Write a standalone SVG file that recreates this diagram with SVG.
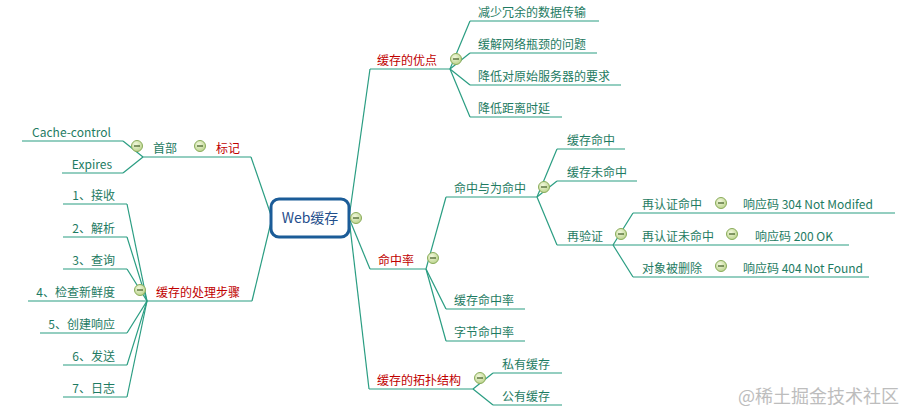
<svg xmlns="http://www.w3.org/2000/svg" xmlns:xlink="http://www.w3.org/1999/xlink" width="913" height="420" viewBox="0 0 913 420">
<style>
text{font-family:"Noto Sans CJK SC","Microsoft YaHei",sans-serif;font-size:12px;fill:#1e7b62}
.r{fill:#c00000}
.e{text-anchor:end}
.ul,.c{stroke:#2a9d82;stroke-width:1.2;fill:none}
.wm{fill:#bdbdbd;font-size:18px}
</style>
<defs>
<radialGradient id="tg" cx="0.4" cy="0.35" r="0.7">
<stop offset="0" stop-color="#f2f8dc"/>
<stop offset="1" stop-color="#b9d28a"/>
</radialGradient>
<g id="tog">
<circle r="5.5" fill="url(#tg)" stroke="#8aac5a" stroke-width="1"/>
<line x1="-3" y1="0" x2="3" y2="0" stroke="#3f5a22" stroke-width="1.2"/>
</g>
</defs>
<rect width="913" height="420" fill="#ffffff"/>

<g id="connectors" class="c">
<path d="M349 218 L370 69"/>
<path d="M349 218 L370 269"/>
<path d="M349 218 L369 389"/>
<path d="M272 218 L251 157"/>
<path d="M272 218 L252 301"/>
<path d="M450 69 L470 21"/>
<path d="M450 69 L470 53"/>
<path d="M450 69 L470 85"/>
<path d="M450 69 L470 117"/>
<path d="M426 269 L446 197"/>
<path d="M426 269 L446 309"/>
<path d="M426 269 L446 341"/>
<path d="M537 197 L557 149"/>
<path d="M537 197 L557 181"/>
<path d="M537 197 L557 245"/>
<path d="M613 245 L633 213"/>
<path d="M613 245 L633 277"/>
<path d="M473 389 L493 373"/>
<path d="M473 389 L493 405"/>
<path d="M143 157 L123 141"/>
<path d="M143 157 L123 173"/>
<path d="M147 301 L127 204"/>
<path d="M147 301 L127 237"/>
<path d="M147 301 L127 269"/>
<path d="M147 301 L127 333"/>
<path d="M147 301 L127 365"/>
<path d="M147 301 L127 397"/>
</g>

<g id="root">
<rect x="271" y="199" width="78" height="38" rx="8" fill="#ffffff" stroke="#1b5c98" stroke-width="3"/>
<text x="310" y="223" text-anchor="middle" style="fill:#1f4e8c;font-size:14px">Web缓存</text>
<use xlink:href="#tog" x="356" y="218"/>
</g>

<g id="n-youdian">
<path class="ul" d="M370 69 H450"/>
<text class="r" x="377" y="65">缓存的优点</text>
<use xlink:href="#tog" x="456" y="59"/>
</g>
<g id="n-yd1"><path class="ul" d="M470 21 H599"/><text x="478" y="17">减少冗余的数据传输</text></g>
<g id="n-yd2"><path class="ul" d="M470 53 H597"/><text x="478" y="49">缓解网络瓶颈的问题</text></g>
<g id="n-yd3"><path class="ul" d="M470 85 H621"/><text x="478" y="81">降低对原始服务器的要求</text></g>
<g id="n-yd4"><path class="ul" d="M470 117 H562"/><text x="478" y="113">降低距离时延</text></g>

<g id="n-mzl">
<path class="ul" d="M370 269 H426"/>
<text class="r" x="378" y="265">命中率</text>
<use xlink:href="#tog" x="433" y="258"/>
</g>
<g id="n-mzywmz">
<path class="ul" d="M446 197 H537"/>
<text x="454" y="193">命中与为命中</text>
<use xlink:href="#tog" x="544" y="187"/>
</g>
<g id="n-hcmz"><path class="ul" d="M557 149 H625"/><text x="567" y="145">缓存命中</text></g>
<g id="n-hcwmz"><path class="ul" d="M557 181 H637"/><text x="567" y="177">缓存未命中</text></g>
<g id="n-zyz">
<path class="ul" d="M557 245 H613"/>
<text x="567" y="241">再验证</text>
<use xlink:href="#tog" x="621" y="234"/>
</g>
<g id="n-rzmz">
<path class="ul" d="M633 213 H720"/>
<text x="642" y="209">再认证命中</text>
<use xlink:href="#tog" x="721" y="203"/>
</g>
<g id="n-304"><path class="ul" d="M720 213 H895"/><text x="743" y="209">响应码 304 Not Modifed</text></g>
<g id="n-rzwmz">
<path class="ul" d="M613 245 H730"/>
<text x="642" y="241">再认证未命中</text>
<use xlink:href="#tog" x="732" y="234"/>
</g>
<g id="n-200"><path class="ul" d="M730 245 H849"/><text x="755" y="241">响应码 200 OK</text></g>
<g id="n-dxbsc">
<path class="ul" d="M633 277 H720"/>
<text x="642" y="273">对象被删除</text>
<use xlink:href="#tog" x="721" y="266"/>
</g>
<g id="n-404"><path class="ul" d="M720 277 H869"/><text x="743" y="273">响应码 404 Not Found</text></g>
<g id="n-hcmzl"><path class="ul" d="M446 309 H525"/><text x="454" y="305">缓存命中率</text></g>
<g id="n-zjmzl"><path class="ul" d="M446 341 H525"/><text x="454" y="337">字节命中率</text></g>

<g id="n-tpjg">
<path class="ul" d="M369 389 H473"/>
<text class="r" x="377" y="385">缓存的拓扑结构</text>
<use xlink:href="#tog" x="480" y="378"/>
</g>
<g id="n-syhc"><path class="ul" d="M493 373 H562"/><text x="502" y="369">私有缓存</text></g>
<g id="n-gyhc"><path class="ul" d="M493 405 H562"/><text x="502" y="401">公有缓存</text></g>

<g id="n-biaoji">
<path class="ul" d="M190 157 H251"/>
<text class="r" x="216" y="153">标记</text>
<use xlink:href="#tog" x="200" y="146"/>
</g>
<g id="n-shoubu">
<path class="ul" d="M143 157 H190"/>
<text x="153" y="153">首部</text>
<use xlink:href="#tog" x="137" y="146"/>
</g>
<g id="n-cc"><path class="ul" d="M22 141 H123"/><text class="e" x="111" y="137">Cache-control</text></g>
<g id="n-exp"><path class="ul" d="M62 173 H123"/><text class="e" x="112" y="169">Expires</text></g>

<g id="n-clbz">
<path class="ul" d="M147 301 H252"/>
<text class="r" x="156" y="297">缓存的处理步骤</text>
<use xlink:href="#tog" x="140" y="290"/>
</g>
<g id="n-s1"><path class="ul" d="M63 204 H127"/><text class="e" x="115" y="200">1、接收</text></g>
<g id="n-s2"><path class="ul" d="M63 237 H127"/><text class="e" x="115" y="233">2、解析</text></g>
<g id="n-s3"><path class="ul" d="M63 269 H127"/><text class="e" x="115" y="265">3、查询</text></g>
<g id="n-s4"><path class="ul" d="M28 301 H147"/><text class="e" x="115" y="297">4、检查新鲜度</text></g>
<g id="n-s5"><path class="ul" d="M40 333 H127"/><text class="e" x="115" y="329">5、创建响应</text></g>
<g id="n-s6"><path class="ul" d="M63 365 H127"/><text class="e" x="115" y="361">6、发送</text></g>
<g id="n-s7"><path class="ul" d="M63 397 H127"/><text class="e" x="115" y="393">7、日志</text></g>

<text class="wm" x="738" y="403">@稀土掘金技术社区</text>
</svg>
